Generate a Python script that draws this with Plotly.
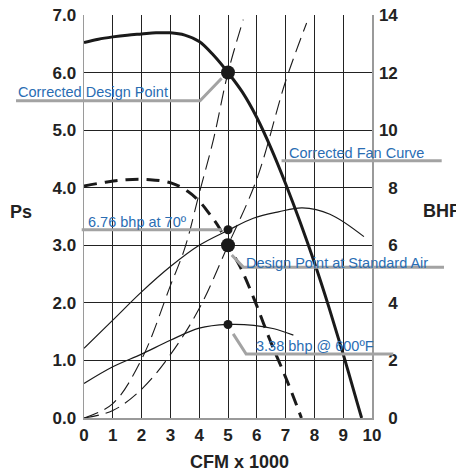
import plotly.graph_objects as go

# ---- data (x in CFM x 1000, Ps in in. w.g., BHP on right axis) ----
fan_corr_x = [0, 0.5, 1, 1.5, 2, 2.5, 3, 3.5, 4, 4.5, 5, 5.5, 6.0, 6.5, 7.0, 7.5, 8.0, 8.5, 9.0, 9.5, 9.64]
fan_corr_ps = [6.52, 6.58, 6.62, 6.65, 6.67, 6.69, 6.69, 6.65, 6.54, 6.3, 6.0, 5.66, 5.22, 4.68, 4.07, 3.41, 2.7, 1.93, 1.11, 0.24, 0.0]

fan_std_x = [0, 0.79, 1.48, 2.29, 3.04, 3.6, 4.03, 4.35, 4.7, 5.0, 5.42, 5.88, 6.46, 7.04, 7.55]
fan_std_ps = [4.03, 4.1, 4.14, 4.14, 4.08, 3.94, 3.75, 3.55, 3.3, 3.0, 2.63, 2.1, 1.35, 0.66, 0.0]

bhp70_x = [0, 1, 2, 3, 4, 5, 5.88, 6.75, 7.58, 8.54, 9.72]
bhp70 = [2.42, 3.4, 4.38, 5.26, 6.0, 6.52, 6.94, 7.16, 7.3, 7.08, 6.3]

bhp600_x = [0, 1, 2, 3, 4, 5, 5.9, 6.6, 7.27]
bhp600 = [1.2, 1.78, 2.22, 2.7, 3.12, 3.25, 3.22, 3.1, 2.88]

sys_hi_x = [0, 1, 2, 3, 3.5, 4, 4.5, 5, 5.53]
sys_hi_ps = [0, 0.25, 1.02, 2.3, 2.95, 3.9, 4.85, 6.0, 6.92]

sys_lo_x = [0, 1, 2, 3, 4, 5, 6, 7, 7.73]
sys_lo_ps = [0, 0.13, 0.5, 1.1, 1.9, 3.0, 4.15, 5.85, 6.86]

pts_big_x = [5, 5]
pts_big_ps = [6.0, 3.0]
pts_small_x = [5, 5]
pts_small_bhp = [6.54, 3.25]

x_ticks = list(range(0, 11))
ps_ticks = [0, 1, 2, 3, 4, 5, 6, 7]
ps_tick_text = ["0.0", "1.0", "2.0", "3.0", "4.0", "5.0", "6.0", "7.0"]
bhp_ticks = [0, 2, 4, 6, 8, 10, 12, 14]
bhp_tick_text = ["\u20070", "\u20072", "\u20074", "\u20076", "\u20078", "10", "12", "14"]

labels = ["Corrected Design Point", "Corrected Fan Curve", "6.76 bhp at 70º",
          "Design Point at Standard Air", "3.38 bhp @ 600ºF"]

# ---- figure ----
fig = go.Figure()
ink = "#1a1a1a"

fig.add_trace(go.Scatter(x=sys_hi_x, y=sys_hi_ps, mode="lines", line=dict(color=ink, width=1.1, dash="15px,7px", shape="spline"), hoverinfo="skip"))
fig.add_trace(go.Scatter(x=sys_lo_x, y=sys_lo_ps, mode="lines", line=dict(color=ink, width=1.1, dash="15px,7px", shape="spline"), hoverinfo="skip"))
fig.add_trace(go.Scatter(x=bhp70_x, y=bhp70, yaxis="y2", mode="lines", line=dict(color=ink, width=1.2, shape="spline"), hoverinfo="skip"))
fig.add_trace(go.Scatter(x=bhp600_x, y=bhp600, yaxis="y2", mode="lines", line=dict(color=ink, width=1.2, shape="spline"), hoverinfo="skip"))
fig.add_trace(go.Scatter(x=fan_std_x, y=fan_std_ps, mode="lines", line=dict(color=ink, width=3, dash="13px,8px", shape="spline"), hoverinfo="skip"))
fig.add_trace(go.Scatter(x=fan_corr_x, y=fan_corr_ps, mode="lines", line=dict(color=ink, width=3, shape="spline"), hoverinfo="skip"))
fig.add_trace(go.Scatter(x=pts_big_x, y=pts_big_ps, mode="markers", marker=dict(color=ink, size=14), hoverinfo="skip"))
fig.add_trace(go.Scatter(x=pts_small_x, y=pts_small_bhp, yaxis="y2", mode="markers", marker=dict(color=ink, size=9), hoverinfo="skip"))

tick_font = dict(family="Liberation Sans, Arial, sans-serif", size=17, color="#222222", weight="bold")

fig.update_layout(
    template="none",
    width=456, height=474,
    margin=dict(l=84, r=84, t=15, b=56, pad=0),
    paper_bgcolor="white", plot_bgcolor="white",
    showlegend=False,
    xaxis=dict(range=[0, 10], tickvals=x_ticks, showgrid=True, gridcolor="#222222", gridwidth=1,
               zeroline=False, showline=True, linecolor="#9a9a9a", linewidth=1.5, automargin=False,
               ticks="", tickfont=tick_font, ticklabelstandoff=1),
    yaxis=dict(range=[0, 7], tickvals=ps_ticks, ticktext=ps_tick_text, showgrid=True, gridcolor="#222222", gridwidth=1,
               zeroline=False, showline=True, linecolor="#9a9a9a", linewidth=1.5, automargin=False,
               ticks="", tickfont=tick_font, ticklabelstandoff=3),
    yaxis2=dict(range=[0, 14], tickvals=bhp_ticks, ticktext=bhp_tick_text, overlaying="y", side="right",
                showgrid=False, zeroline=False, showline=True, linecolor="#9a9a9a", linewidth=1.5, automargin=False,
                ticks="", tickfont=tick_font, ticklabelstandoff=2),
)

def xp(v):
    return v / 10.0

def yp(v):
    return v / 7.0

grey = dict(color="#a3a3a3", width=3)
leaders = [
    [(-2.36, 5.51), (4.03, 5.51), (4.78, 5.9)],
    [(6.86, 4.47), (12.42, 4.47)],
    [(-0.08, 3.27), (4.78, 3.27)],
    [(5.13, 2.83), (5.53, 2.62), (12.5, 2.62)],
    [(5.18, 1.46), (5.63, 1.11), (10.74, 1.11)],
]
for pts in leaders:
    path = "M " + " L ".join(f"{xp(a):.4f},{yp(b):.4f}" for a, b in pts)
    fig.add_shape(type="path", path=path, xref="paper", yref="paper", line=grey, layer="above")

label_pos = [(-2.36, 5.66), (7.04, 4.61), (0.07, 3.41), (5.56, 2.69), (5.9, 1.25)]
label_font = dict(family="Liberation Sans Narrow, Arial Narrow, Liberation Sans, Arial, sans-serif", size=14.5, color="#2a6db3")
for txt, (a, b) in zip(labels, label_pos):
    fig.add_annotation(text=txt, x=xp(a), y=yp(b), xref="paper", yref="paper", xanchor="left", yanchor="middle",
                       showarrow=False, font=label_font)

title_font = dict(family="Liberation Sans, Arial, sans-serif", size=18, color="#222222", weight="bold")
fig.add_annotation(text="CFM x 1000", x=xp(5.4), y=yp(-0.77), xref="paper", yref="paper", showarrow=False,
                   xanchor="center", yanchor="middle", font=title_font)
fig.add_annotation(text="Ps", x=xp(-2.2), y=yp(3.57), xref="paper", yref="paper", showarrow=False,
                   xanchor="center", yanchor="middle", font=title_font)
fig.add_annotation(text="BHP", x=xp(11.7), y=yp(3.6), xref="paper", yref="paper", showarrow=False,
                   xanchor="left", yanchor="middle", font=title_font)

fig.write_html("out.html", config={"displayModeBar": False, "staticPlot": True})

# remove default page margins so the figure sits at the window's top-left corner
with open("out.html", "r", encoding="utf-8") as f:
    html = f.read()
html = html.replace("<head>", "<head><style>html,body{margin:0;padding:0;overflow:hidden;}</style>", 1)
with open("out.html", "w", encoding="utf-8") as f:
    f.write(html)
